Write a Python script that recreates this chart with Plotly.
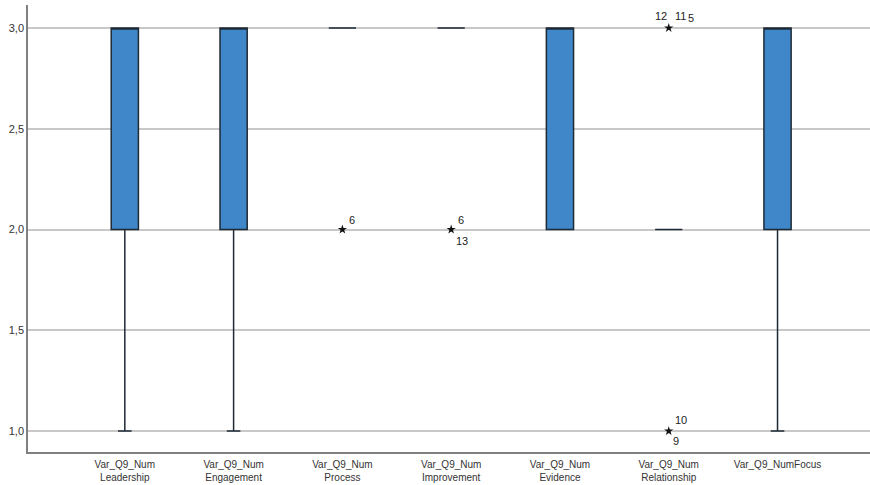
import plotly.graph_objects as go

categories = ["Var_Q9_Num<br>Leadership", "Var_Q9_Num<br>Engagement", "Var_Q9_Num<br>Process",
              "Var_Q9_Num<br>Improvement", "Var_Q9_Num<br>Evidence", "Var_Q9_Num<br>Relationship",
              "Var_Q9_NumFocus"]
q1 = [2, 2, 3, 3, 2, 2, 2]
median = [3, 3, 3, 3, 3, 2, 3]
q3 = [3, 3, 3, 3, 3, 2, 3]
lowerfence = [1, 1, 3, 3, 2, 2, 1]
upperfence = [3, 3, 3, 3, 3, 2, 3]

# outliers: category index, value, case labels
out_cat = [2, 3, 5, 5]
out_val = [2, 2, 3, 1]
out_labels = [["6"], ["6", "13"], ["12", "11", "5"], ["10", "9"]]
# label offsets in pixels (style)
label_offsets = [[(10, 10)], [(10, 10), (11, -11)], [(-8, 12), (12, 12), (22, 10)], [(12, 11), (7, -10)]]

ytick_vals = [1.0, 1.5, 2.0, 2.5, 3.0]

xpos = list(range(len(categories)))

fig = go.Figure()
for i in xpos:
    fig.add_trace(go.Box(
        x=[i], q1=[q1[i]], median=[median[i]], q3=[q3[i]],
        lowerfence=[lowerfence[i]], upperfence=[upperfence[i]],
        fillcolor="#3F87C8", line=dict(color="#1e2a36", width=1.5),
        width=0.25, whiskerwidth=0.5, boxpoints=False, showlegend=False,
        hoverinfo="skip"))

fig.add_trace(go.Scatter(
    x=out_cat, y=out_val, mode="markers",
    marker=dict(symbol="star", size=7, color="#111111"),
    showlegend=False, hoverinfo="skip"))

annotations = []
for c, v, labs, offs in zip(out_cat, out_val, out_labels, label_offsets):
    for lab, (dx, dy) in zip(labs, offs):
        annotations.append(dict(x=c, y=v, xref="x", yref="y", text=lab, showarrow=False,
                                xshift=dx, yshift=dy,
                                font=dict(family="Liberation Sans, Arial", size=11, color="#222222")))

fig.update_layout(
    width=870, height=485,
    margin=dict(l=28, r=0, t=5, b=33, autoexpand=False),
    paper_bgcolor="white", plot_bgcolor="white",
    separators=",.",
    annotations=annotations,
    font=dict(family="Liberation Sans, Arial", size=10, color="#333333"),
    xaxis=dict(range=[-0.89, 6.85], tickvals=xpos, ticktext=categories, automargin=False,
               showgrid=False, zeroline=False, showline=True, linecolor="#808080", linewidth=1.5,
               ticks="", ticklabelstandoff=2, tickfont=dict(size=10, color="#333333")),
    yaxis=dict(range=[0.896, 3.114], tickvals=ytick_vals, tickformat=".1f", automargin=False,
               showgrid=True, gridcolor="#C8C8C8", gridwidth=1.5, zeroline=False,
               showline=True, linecolor="#808080", linewidth=1.5, ticks="",
               tickfont=dict(size=11, color="#333333")),
)

fig.write_html("out.html", config={"displayModeBar": False},
               post_script="document.body.style.margin='0';document.body.style.overflow='hidden';")
